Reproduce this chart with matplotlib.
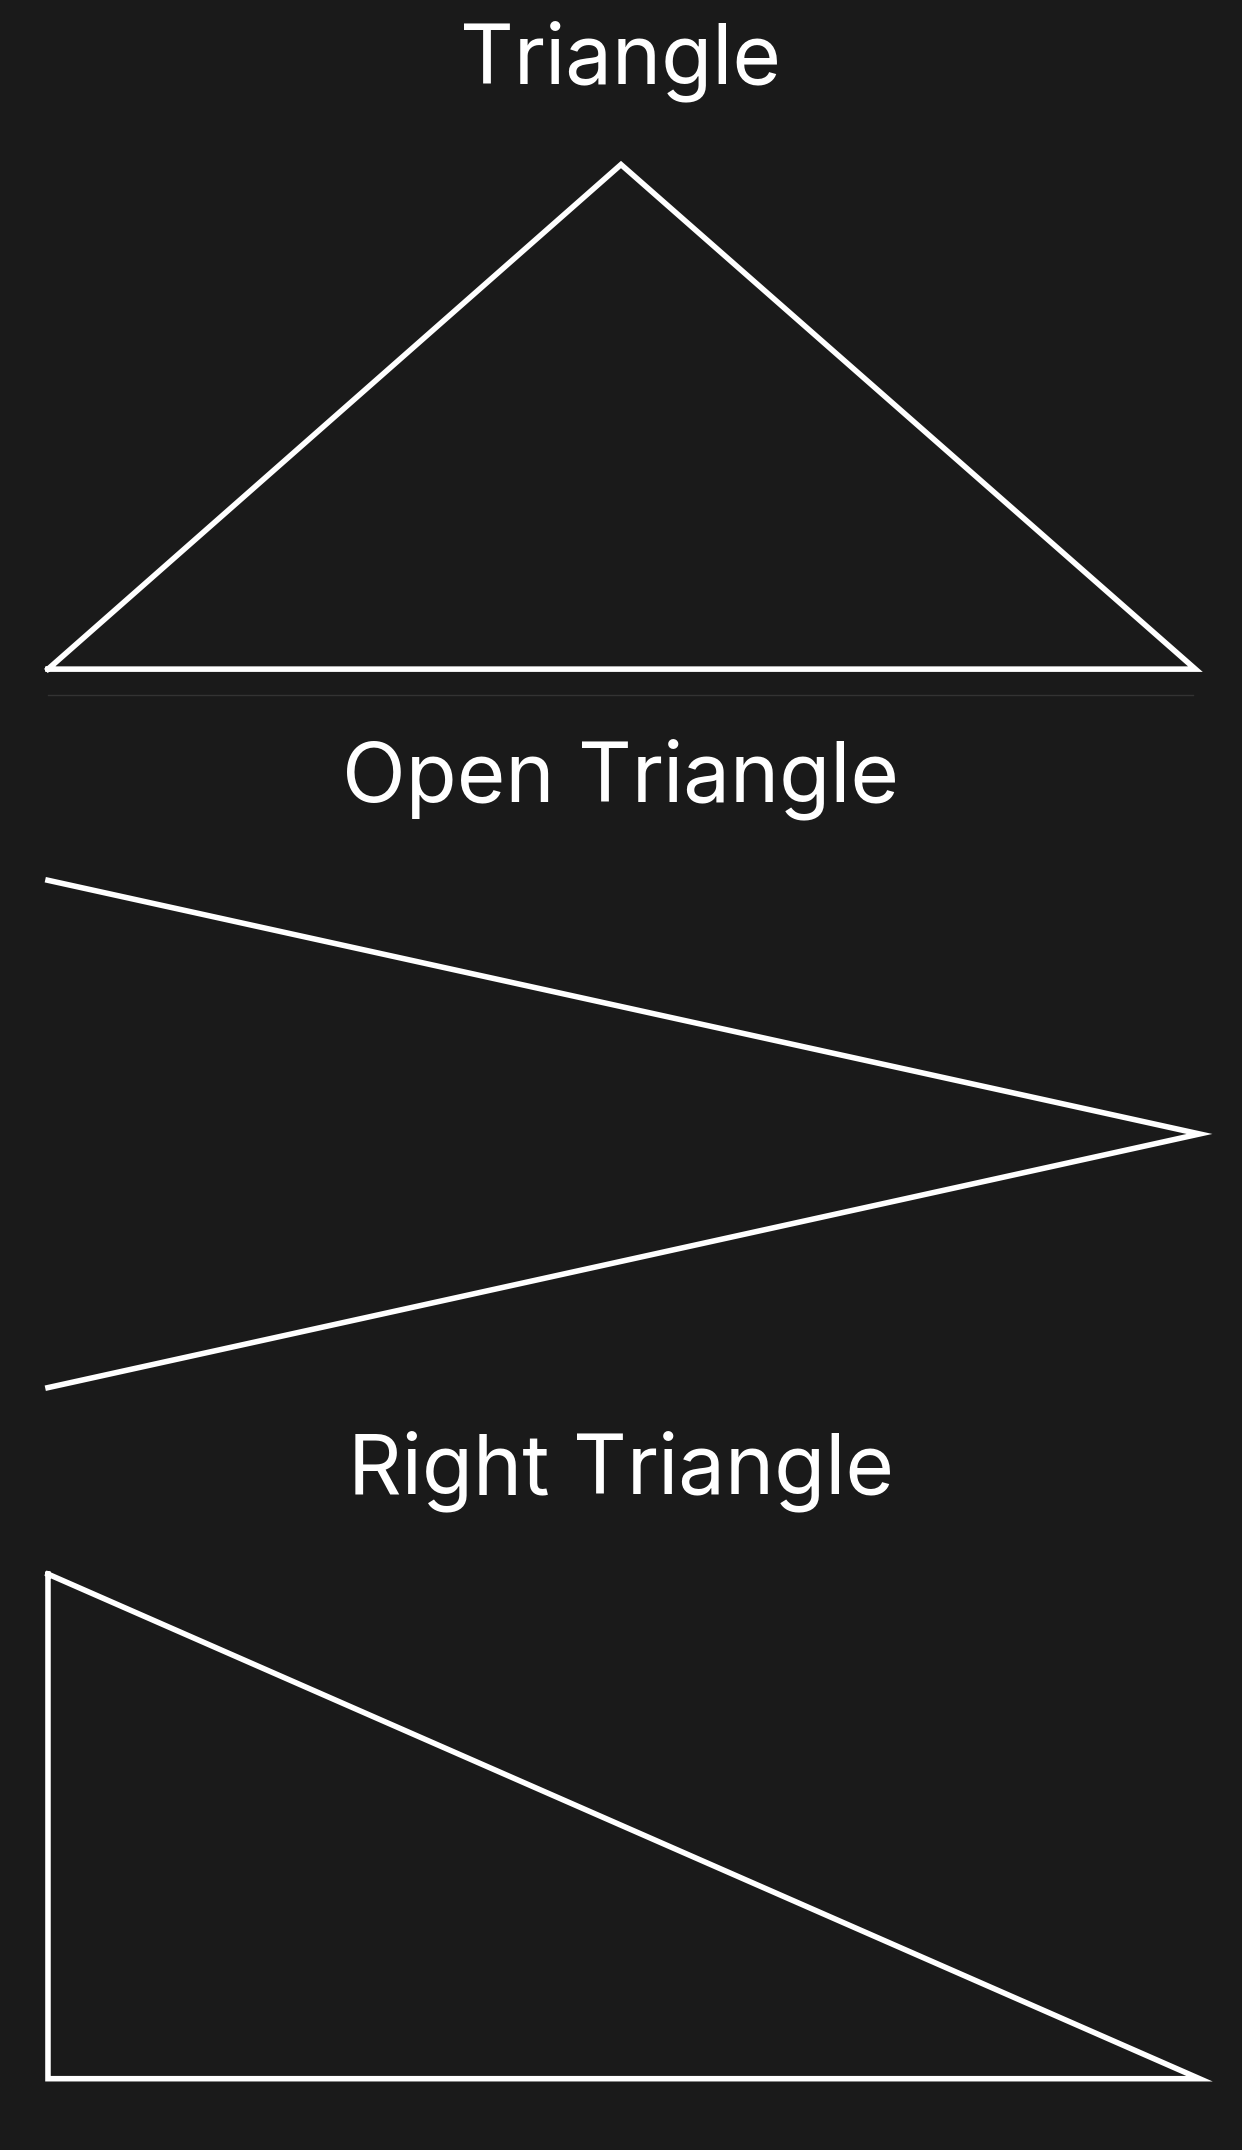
import matplotlib
matplotlib.use("Agg")
import matplotlib.pyplot as plt

titles = ["Triangle", "Open Triangle", "Right Triangle"]
title_y = [45, 568, 1073]
tri_x = [35, 453, 872, 35]
tri_y = [488, 120, 488, 488]
open_x = [35, 875, 35]
open_y = [642, 827, 1012]
right_x = [35, 35, 875, 35]
right_y = [1148, 1516, 1516, 1148]
sep_x = [35, 870]
sep_y = [507, 507]

fig = plt.figure(figsize=(12.42, 21.5), dpi=100, facecolor="#1a1a1a")
ax = fig.add_axes([0, 0, 1, 1])
ax.set_facecolor("#1a1a1a")
ax.set_xlim(0, 906)
ax.set_ylim(1568, 0)
ax.axis("off")

lw = 4
ax.plot(tri_x, tri_y, color="white", lw=lw, solid_joinstyle="miter")
ax.plot(open_x, open_y, color="white", lw=lw, solid_joinstyle="miter")
ax.plot(right_x, right_y, color="white", lw=lw, solid_joinstyle="miter")
ax.plot(sep_x, sep_y, color="#333333", lw=1)
for t, y in zip(titles, title_y):
    ax.text(453, y, t, color="white", fontsize=60, family=["Inter", "DejaVu Sans"],
            ha="center", va="center")

fig.savefig("out.png", facecolor="#1a1a1a")
